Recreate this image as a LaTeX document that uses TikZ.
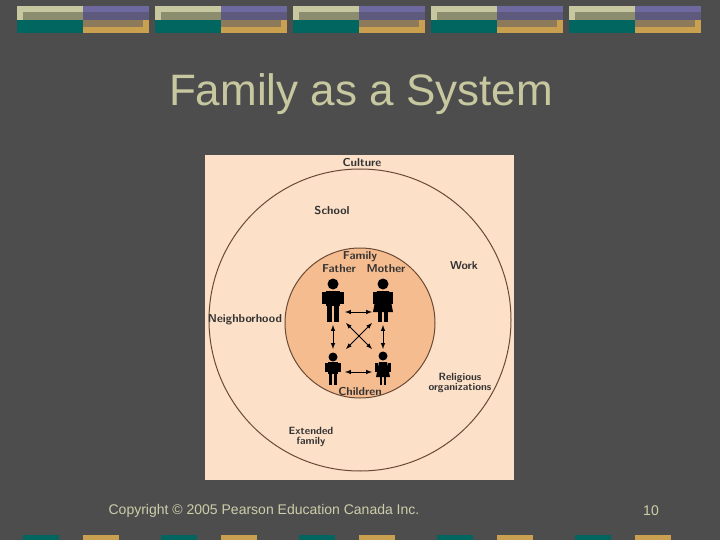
\documentclass[tikz,border=0pt]{standalone}
\usepackage{fontspec}
\setmainfont{Liberation Sans}
\definecolor{slidebg}{HTML}{4D4D4D}
\definecolor{khaki}{HTML}{C8C8A0}
\definecolor{olivegrey}{HTML}{8C8C6E}
\definecolor{tealbar}{HTML}{00665F}
\definecolor{purplebar}{HTML}{6E6AA0}
\definecolor{purplegrey}{HTML}{5E5A7E}
\definecolor{brownbar}{HTML}{8C7A5A}
\definecolor{goldbar}{HTML}{C8A050}
\definecolor{paleorange}{HTML}{FCE0C8}
\definecolor{midorange}{HTML}{F5BC90}
\definecolor{ringline}{HTML}{6B4A35}
\tikzset{
  lbl/.style={font=\fontsize{11.5}{12}\selectfont\sffamily\bfseries, text=black!80, align=center, inner sep=0pt},
  lblsm/.style={lbl, font=\fontsize{10.5}{10.5}\selectfont\sffamily\bfseries},
  fam/.style={<->, >=latex, line width=1pt}
}
\begin{document}
\begin{tikzpicture}[x=1pt,y=-1pt]
  \fill[slidebg] (0,0) rectangle (720,540);
  \useasboundingbox (0,0) rectangle (720,540);

  % banner blocks
  \foreach \bx in {17,155,293,431,569} {
    \fill[khaki] (\bx,6) rectangle ++(66,14);
    \fill[olivegrey] (\bx+6,12) rectangle ++(60,8);
    \fill[tealbar] (\bx,20) rectangle ++(66,13);
    \fill[purplebar] (\bx+66,6) rectangle ++(66,14);
    \fill[purplegrey] (\bx+66,12) rectangle ++(66,8);
    \fill[goldbar] (\bx+66,20) rectangle ++(66,13);
    \fill[brownbar] (\bx+66,20) rectangle ++(60,7);
    \fill[tealbar] (\bx+6,535) rectangle ++(36,5);
    \fill[goldbar] (\bx+66,535) rectangle ++(36,5);
  }

  \node (title) at (361,94) [text=khaki, font=\fontsize{44}{50}\selectfont] {Family as a System};

  % figure
  \fill[paleorange] (205,155) rectangle (514,480);
  \draw[ringline, line width=1pt] (360,320) circle (151);
  \fill[midorange] (360,323) circle (75);
  \draw[ringline, line width=1pt] (360,323) circle (75);

  \node (culture) at (362,163) [lbl] {Culture};
  \node (school) at (332,211) [lbl] {School};
  \node (work) at (464,266) [lbl] {Work};
  \node (neigh) at (245,320) [lbl] {Neighborhood};
  \node (relig) at (460,383) [lblsm] {Religious\\organizations};
  \node (ext) at (311,437) [lblsm] {Extended\\family};
  \node (family) at (360,257) [lbl] {Family};
  \node (father) at (339,269) [lbl] {Father};
  \node (mother) at (386,269) [lbl] {Mother};
  \node (children) at (360,392) [lbl] {Children};

  % people
  \begin{scope}[black]
    % father
    \fill (333,284) circle (5.5);
    \fill (326,291) rectangle (340,306);
    \fill (322,292) rectangle (326,304);
    \fill (340,292) rectangle (344,304);
    \fill (327,306) rectangle (332,322);
    \fill (334,306) rectangle (339,322);
    % mother
    \fill (383,284) circle (5.5);
    \fill (377,291) -- (389,291) -- (393,312) -- (373,312) -- cycle;
    \fill (373,292) rectangle (377,304);
    \fill (389,292) rectangle (393,304);
    \fill (378,312) rectangle (382,322);
    \fill (384,312) rectangle (388,322);
    % boy
    \fill (333,357) circle (4.5);
    \fill (328,362) rectangle (338,374);
    \fill (325,363) rectangle (328,372);
    \fill (338,363) rectangle (341,372);
    \fill (329,374) rectangle (332,385);
    \fill (334,374) rectangle (337,385);
    % girl
    \fill (383,356) circle (4.5);
    \fill (379,362) -- (387,362) -- (390,377) -- (376,377) -- cycle;
    \fill (375,363) rectangle (378,372);
    \fill (388,363) rectangle (391,372);
    \fill (380,377) rectangle (382,385);
    \fill (384,377) rectangle (386,385);
  \end{scope}

  % arrow ends
  \coordinate (faR) at (345,312);
  \coordinate (moL) at (372,312);
  \coordinate (boR) at (345,372);
  \coordinate (giL) at (372,372);
  \coordinate (faB) at (333,325);
  \coordinate (boT) at (333,349);
  \coordinate (moB) at (383,325);
  \coordinate (giT) at (383,349);
  \coordinate (faD) at (346,323);
  \coordinate (giD) at (372,349);
  \coordinate (moD) at (372,323);
  \coordinate (boD) at (346,349);

  \draw[fam] (faR) -- (moL);
  \draw[fam] (boR) -- (giL);
  \draw[fam] (faB) -- (boT);
  \draw[fam] (moB) -- (giT);
  \draw[fam] (faD) -- (giD);
  \draw[fam] (moD) -- (boD);

  \node (copy) at (264,511) [text=khaki!90!white, font=\fontsize{14}{16}\selectfont] {Copyright © 2005 Pearson Education Canada Inc.};
  \node (page) at (651,511) [text=khaki!90!white, font=\fontsize{14}{16}\selectfont] {10};
\end{tikzpicture}
\end{document}
